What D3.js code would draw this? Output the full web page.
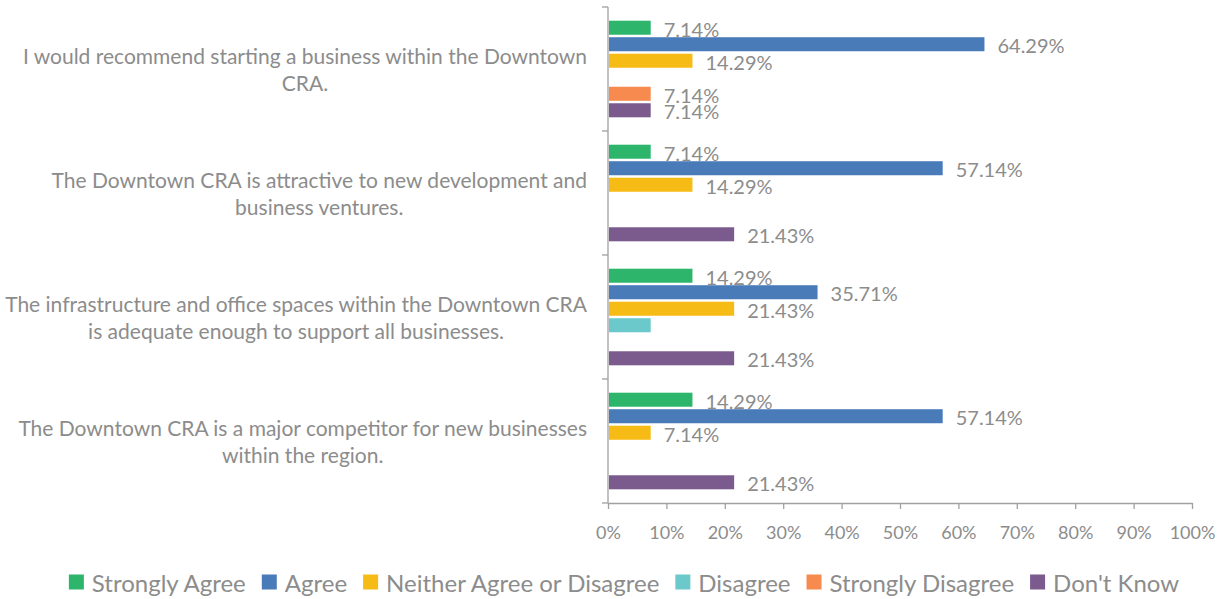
<!DOCTYPE html>
<html>
<head>
<meta charset="utf-8">
<script src="https://cdn.jsdelivr.net/npm/d3@7"></script>
<style>
  body { margin: 0; background: #fff; }
  text { font-family: Lato, "Open Sans", sans-serif; fill: #8c8c8c; }
</style>
</head>
<body>
<svg id="chart" width="1230" height="599"></svg>
<script>
// Survey statements (already split into the two lines they wrap to)
const categories = [
    ["I would recommend starting a business within the Downtown", "CRA."],
    ["The Downtown CRA is attractive to new development and", "business ventures."],
    ["The infrastructure and office spaces within the Downtown CRA", "is adequate enough to support all businesses."],
    ["The Downtown CRA is a major competitor for new businesses", "within the region."]
];
const seriesNames = ["Strongly Agree", "Agree", "Neither Agree or Disagree", "Disagree", "Strongly Disagree", "Don't Know"];
const stronglyAgree    = [7.14, 7.14, 14.29, 14.29];
const agree            = [64.29, 57.14, 35.71, 57.14];
const neither          = [14.29, 14.29, 21.43, 7.14];
const disagree         = [0, 0, 7.14, 0];
const stronglyDisagree = [7.14, 0, 0, 0];
const dontKnow         = [7.14, 21.43, 21.43, 21.43];
const xTicks = [0, 10, 20, 30, 40, 50, 60, 70, 80, 90, 100];
// [category, series] pairs whose data label is not shown in the original
const hiddenLabels = [[2, 3]];

const colors = ["#2db56b", "#4a7bb9", "#f6bb15", "#6bc9cb", "#f68a4f", "#7b5b8e"];
const seriesValues = [stronglyAgree, agree, neither, disagree, stronglyDisagree, dontKnow];

const plotLeft = 608, plotRight = 1192, plotTop = 7, plotBottom = 503;
const axisColor = "#a0a0a0";
const textColor = "#8c8c8c";

const svg = d3.select("#chart");

const x = d3.scaleLinear().domain([0, 100]).range([plotLeft, plotRight]);
const y0 = d3.scaleBand().domain(d3.range(categories.length)).range([plotTop, plotBottom]);
const y1 = d3.scaleBand().domain(d3.range(seriesNames.length))
    .range([0, y0.bandwidth()])
    .paddingInner(0.15)
    .paddingOuter(0.83);

// one record per bar
const rows = [];
categories.forEach((c, ci) => {
    seriesNames.forEach((s, si) => {
        rows.push({ci, si, value: seriesValues[si][ci]});
    });
});
const isHidden = d => hiddenLabels.some(([c, s]) => c === d.ci && s === d.si);

// bars
svg.append("g")
    .selectAll("rect")
    .data(rows.filter(d => d.value > 0))
    .enter()
    .append("rect")
    .attr("x", x(0) + 1)
    .attr("y", d => y0(d.ci) + y1(d.si))
    .attr("width", d => x(d.value) - x(0))
    .attr("height", y1.bandwidth())
    .attr("fill", d => colors[d.si]);

// data labels
svg.append("g")
    .selectAll("text")
    .data(rows.filter(d => d.value > 0 && !isHidden(d)))
    .enter()
    .append("text")
    .attr("x", d => x(d.value) + 14)
    .attr("y", d => y0(d.ci) + y1(d.si) + y1.bandwidth() / 2 + 1)
    .attr("dominant-baseline", "central")
    .attr("font-size", 20)
    .text(d => d.value.toFixed(2) + "%");

// x axis
const xAxis = svg.append("g")
    .attr("transform", `translate(0,${plotBottom})`)
    .call(d3.axisBottom(x).tickValues(xTicks).tickSize(6).tickSizeOuter(0).tickPadding(17).tickFormat(d => d + "%"));
xAxis.select(".domain").attr("stroke", axisColor).attr("stroke-width", 1.3);
xAxis.selectAll(".tick line").attr("stroke", axisColor).attr("stroke-width", 1.3);
xAxis.selectAll(".tick text").attr("font-size", 18).attr("font-family", "Lato, sans-serif").attr("fill", textColor);

// y axis: line plus ticks at category boundaries
const bounds = y0.domain().map(i => y0(i)).concat([plotBottom]);
const yAxis = svg.append("g");
yAxis.append("line")
    .attr("x1", plotLeft).attr("x2", plotLeft)
    .attr("y1", plotTop).attr("y2", plotBottom)
    .attr("stroke", axisColor).attr("stroke-width", 1.3);
yAxis.selectAll("line.tick")
    .data(bounds)
    .enter()
    .append("line")
    .attr("class", "tick")
    .attr("x1", plotLeft - 6).attr("x2", plotLeft)
    .attr("y1", d => d).attr("y2", d => d)
    .attr("stroke", axisColor).attr("stroke-width", 1.3);

// category labels, right aligned, second line centred under the first
svg.append("g")
    .selectAll("g")
    .data(categories)
    .enter()
    .append("g")
    .each(function (lines, i) {
        const g = d3.select(this);
        const cy = y0(i) + y0.bandwidth() / 2;
        const first = g.append("text")
            .attr("x", plotLeft - 21)
            .attr("y", cy - 13.5)
            .attr("text-anchor", "end")
            .attr("dominant-baseline", "central")
            .attr("font-size", 21)
            .text(lines[0]);
        const w = first.node().getComputedTextLength();
        g.append("text")
            .attr("x", plotLeft - 21 - w / 2)
            .attr("y", cy + 13.5)
            .attr("text-anchor", "middle")
            .attr("dominant-baseline", "central")
            .attr("font-size", 21)
            .text(lines[1]);
    });

// legend, centred under the chart
const legendY = 582, box = 15, boxGap = 8, itemGap = 16;
const items = svg.append("g")
    .selectAll("g")
    .data(seriesNames)
    .enter()
    .append("g");
items.append("rect")
    .attr("width", box).attr("height", box)
    .attr("y", legendY - box / 2)
    .attr("fill", (d, i) => colors[i]);
items.append("text")
    .attr("x", box + boxGap)
    .attr("y", legendY)
    .attr("dominant-baseline", "central")
    .attr("font-size", 24)
    .text(d => d);
const offsets = [];
let cursor = 0;
items.each(function () {
    offsets.push(cursor);
    cursor += box + boxGap + d3.select(this).select("text").node().getComputedTextLength() + itemGap;
});
const start = 624 - (cursor - itemGap) / 2;
items.attr("transform", (d, i) => `translate(${start + offsets[i]},0)`);
</script>
</body>
</html>
